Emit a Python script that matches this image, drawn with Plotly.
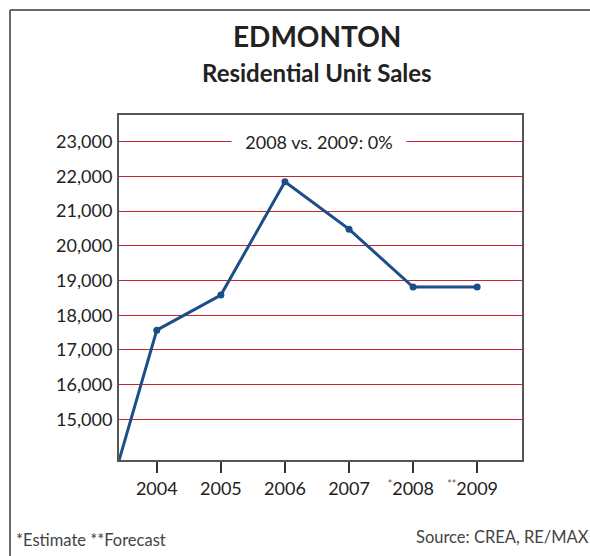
import plotly.graph_objects as go

# Annual residential unit sales, Edmonton (2008 estimate, 2009 forecast)
years = [2003, 2004, 2005, 2006, 2007, 2008, 2009]
sales = [11200, 17570, 18580, 21845, 20480, 18810, 18810]
tick_years = [2004, 2005, 2006, 2007, 2008, 2009]
y_ticks = [15000, 16000, 17000, 18000, 19000, 20000, 21000, 22000, 23000]


def marked(label, mark):
    # superscript footnote mark before the year; an invisible copy after
    # keeps the digits centred on the tick
    sup = "<span style='font-size:15px;color:#555'><sup>%s</sup></span>"
    pad = "<span style='font-size:15px;color:rgba(0,0,0,0)'><sup>%s</sup></span>"
    return (sup % mark) + label + (pad % mark)


tick_text = ["2004", "2005", "2006", "2007",
             marked("2008", "*"), marked("2009", "**")]

W, H = 590, 556
ML, MR, MT, MB = 119, 68, 115, 96
PW, PH = W - ML - MR, H - MT - MB


def px_x(px):
    return (px - ML) / PW


def px_y(py):
    return (H - MB - py) / PH


FONT = "Lato, 'Open Sans', sans-serif"

fig = go.Figure()
fig.add_trace(go.Scatter(
    x=years, y=sales, mode="lines+markers",
    line=dict(color="#1b4f88", width=3),
    marker=dict(color="#1b4f88", size=7),
    hoverinfo="x+y",
))

fig.update_layout(
    width=W, height=H,
    margin=dict(l=ML, r=MR, t=MT, b=MB),
    paper_bgcolor="white", plot_bgcolor="white",
    showlegend=False,
    font=dict(family=FONT, color="#222"),
    xaxis=dict(
        range=[2003.41, 2009.70],
        tickvals=tick_years, ticktext=tick_text,
        ticks="outside", ticklen=11, tickwidth=1.5, tickcolor="#333",
        tickfont=dict(size=18, color="#222"),
        showgrid=False, zeroline=False,
        showline=True, linecolor="#555", linewidth=2, mirror=True,
    ),
    yaxis=dict(
        range=[13827, 23770],
        tickvals=y_ticks, tickformat=",d",
        ticks="", ticklabelstandoff=1,
        tickfont=dict(size=18, color="#222"),
        showgrid=True, gridcolor="#c8232f", gridwidth=1,
        zeroline=False,
        showline=True, linecolor="#555", linewidth=2, mirror=True,
    ),
    annotations=[
        dict(text="<b>EDMONTON</b>", xref="paper", yref="paper",
             x=px_x(317), y=px_y(36), xanchor="center", yanchor="middle",
             showarrow=False, font=dict(size=28, color="#222")),
        dict(text="<b>Residential Unit Sales</b>", xref="paper", yref="paper",
             x=px_x(317), y=px_y(72), xanchor="center", yanchor="middle",
             showarrow=False, font=dict(size=24, color="#222")),
        dict(text="2008 vs. 2009: 0%", xref="paper", yref="y",
             x=px_x(319), y=23000, xanchor="center", yanchor="middle",
             showarrow=False, bgcolor="white", borderpad=3,
             font=dict(size=18, color="#222"), width=168),
        dict(text="*Estimate **Forecast", xref="paper", yref="paper",
             x=px_x(14), y=px_y(540), xanchor="left", yanchor="middle",
             showarrow=False, font=dict(size=16.5, color="#444")),
        dict(text="Source: CREA, RE/MAX", xref="paper", yref="paper",
             x=px_x(591), y=px_y(537), xanchor="right", yanchor="middle",
             showarrow=False, font=dict(size=16.5, color="#444")),
    ],
    shapes=[
        dict(type="line", xref="paper", yref="paper",
             x0=px_x(10), y0=px_y(10), x1=px_x(10), y1=px_y(560),
             line=dict(color="#6a6a6a", width=2)),
        dict(type="line", xref="paper", yref="paper",
             x0=px_x(10), y0=px_y(10), x1=px_x(595), y1=px_y(10),
             line=dict(color="#6a6a6a", width=2)),
    ],
)

fig.write_html("out.html")
